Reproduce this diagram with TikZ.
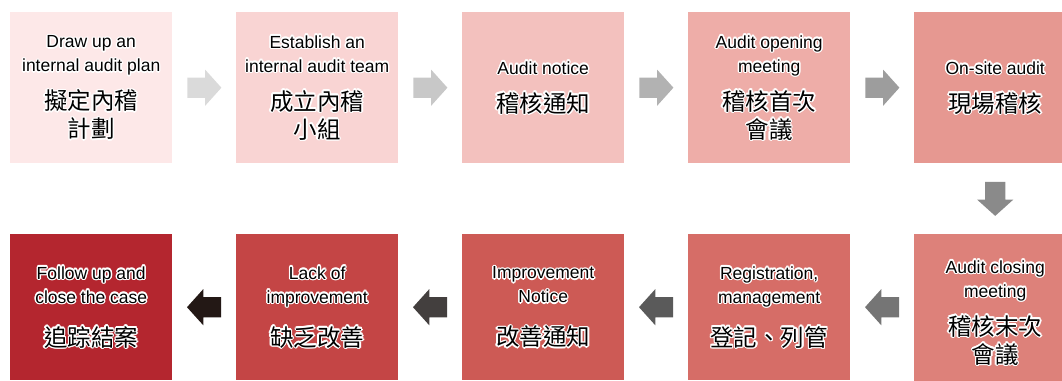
\documentclass[tikz,border=0pt]{standalone}
\usepackage{fontspec}
\setmainfont{Liberation Sans}
\newfontfamily\cjk{Noto Sans CJK TC}
\usepackage{tikz}
\usetikzlibrary{shapes.arrows,calc}

% white halo round the labels
\newlength\glowx
\newlength\glowy
\newcommand{\glowtext}[1]{\leavevmode\rlap{\color{white}\foreach \ang in {0,30,...,330}{\pgfmathsetlength{\glowx}{1.4*cos(\ang)}\pgfmathsetlength{\glowy}{1.4*sin(\ang)}\rlap{\kern\glowx\raise\glowy\hbox{#1}}}}#1}
\newcommand{\cjkline}{\cjk\fontsize{23.5}{24}\selectfont}
\lineskiplimit=-30pt

\definecolor{boxa}{HTML}{FDE8E8}
\definecolor{boxb}{HTML}{F9D4D3}
\definecolor{boxc}{HTML}{F3C1BE}
\definecolor{boxd}{HTML}{EEADA8}
\definecolor{boxe}{HTML}{E69891}
\definecolor{boxf}{HTML}{DD817A}
\definecolor{boxg}{HTML}{D66D67}
\definecolor{boxh}{HTML}{CD5A55}
\definecolor{boxi}{HTML}{C44545}
\definecolor{boxj}{HTML}{B4262F}
\definecolor{arra}{HTML}{DADADA}
\definecolor{arrb}{HTML}{C8C8C8}
\definecolor{arrc}{HTML}{B2B2B2}
\definecolor{arrd}{HTML}{9D9D9D}
\definecolor{arre}{HTML}{8A8A8A}
\definecolor{arrf}{HTML}{757575}
\definecolor{arrg}{HTML}{5A5A5A}
\definecolor{arrh}{HTML}{433F3E}
\definecolor{arri}{HTML}{231815}

\begin{document}
\begin{tikzpicture}[x=1pt, y=-1pt,
  box/.style={anchor=north west, minimum width=162pt, minimum height=151pt,
    inner sep=0pt, align=center, font=\fontsize{17.5}{24}\selectfont},
  lowbox/.style={box, minimum height=146pt},
  blockarrow/.style={single arrow, draw=none, anchor=tail,
    inner xsep=9pt, inner ysep=10pt, minimum height=34pt,
    single arrow head extend=8pt, single arrow tip angle=96},
  rightarrow/.style={blockarrow, xshift=-17pt},
  leftarrow/.style={blockarrow, shape border rotate=180, xshift=17pt},
  downarrow/.style={blockarrow, shape border rotate=270,
    inner xsep=10pt, inner ysep=9pt, yshift=17pt}]
  \useasboundingbox (0,0) rectangle (1062,380);
  \clip (0,0) rectangle (1062,380);
  \coordinate (r1) at (10,12);
  \coordinate (r2) at (236,12);
  \coordinate (r3) at (462,12);
  \coordinate (r4) at (688,12);
  \coordinate (r5) at (914,12);
  \coordinate (s1) at (10,234);
  \coordinate (s2) at (236,234);
  \coordinate (s3) at (462,234);
  \coordinate (s4) at (688,234);
  \coordinate (s5) at (914,234);

  % first row
  \node [box, fill=boxa] (plan) at (r1) {\glowtext{Draw up an}\\\glowtext{internal audit plan}\\[14pt]\cjkline\glowtext{擬定內稽}\\[4pt]\cjkline\glowtext{計劃}};
  \node [box, fill=boxb] (team) at (r2) {\glowtext{Establish an}\\\glowtext{internal audit team}\\[14pt]\cjkline\glowtext{成立內稽}\\[4pt]\cjkline\glowtext{小組}};
  \node [box, fill=boxc] (notice) at (r3) {\glowtext{Audit notice}\\[14pt]\cjkline\glowtext{稽核通知}};
  \node [box, fill=boxd] (opening) at (r4) {\glowtext{Audit opening}\\\glowtext{meeting}\\[14pt]\cjkline\glowtext{稽核首次}\\[4pt]\cjkline\glowtext{會議}};
  \node [box, fill=boxe] (onsite) at (r5) {\glowtext{On-site audit}\\[14pt]\cjkline\glowtext{現場稽核}};

  % second row
  \node [box, fill=boxf, minimum height=157pt] (closing) at (s5) {\glowtext{Audit closing}\\\glowtext{meeting}\\[14pt]\cjkline\glowtext{稽核末次}\\[4pt]\cjkline\glowtext{會議}};
  \node [lowbox, fill=boxg] (register) at (s4) {\glowtext{Registration,}\\\glowtext{management}\\[19pt]\cjkline\glowtext{登記、列管}};
  \node [lowbox, fill=boxh] (improve) at (s3) {\glowtext{Improvement}\\\glowtext{Notice}\\[19pt]\cjkline\glowtext{改善通知}};
  \node [lowbox, fill=boxi] (lack) at (s2) {\glowtext{Lack of}\\\glowtext{improvement}\\[19pt]\cjkline\glowtext{缺乏改善}};
  \node [lowbox, fill=boxj] (follow) at (s1) {\glowtext{Follow up and}\\\glowtext{close the case}\\[19pt]\cjkline\glowtext{追踪結案}};

  % arrows
  \node [rightarrow, fill=arra] (ar1) at ($(plan.east)!0.5!(team.west)$) {};
  \node [rightarrow, fill=arrb] (ar2) at ($(team.east)!0.5!(notice.west)$) {};
  \node [rightarrow, fill=arrc] (ar3) at ($(notice.east)!0.5!(opening.west)$) {};
  \node [rightarrow, fill=arrd] (ar4) at ($(opening.east)!0.5!(onsite.west)$) {};
  \node [downarrow, fill=arre] (ar5) at ($(onsite.south)!0.5!(closing.north)$) {};
  \node [leftarrow, fill=arrf] (ar6) at ($(closing.west |- register.east)!0.5!(register.east)$) {};
  \node [leftarrow, fill=arrg] (ar7) at ($(register.west)!0.5!(improve.east)$) {};
  \node [leftarrow, fill=arrh] (ar8) at ($(improve.west)!0.5!(lack.east)$) {};
  \node [leftarrow, fill=arri] (ar9) at ($(lack.west)!0.5!(follow.east)$) {};
\end{tikzpicture}
\end{document}
